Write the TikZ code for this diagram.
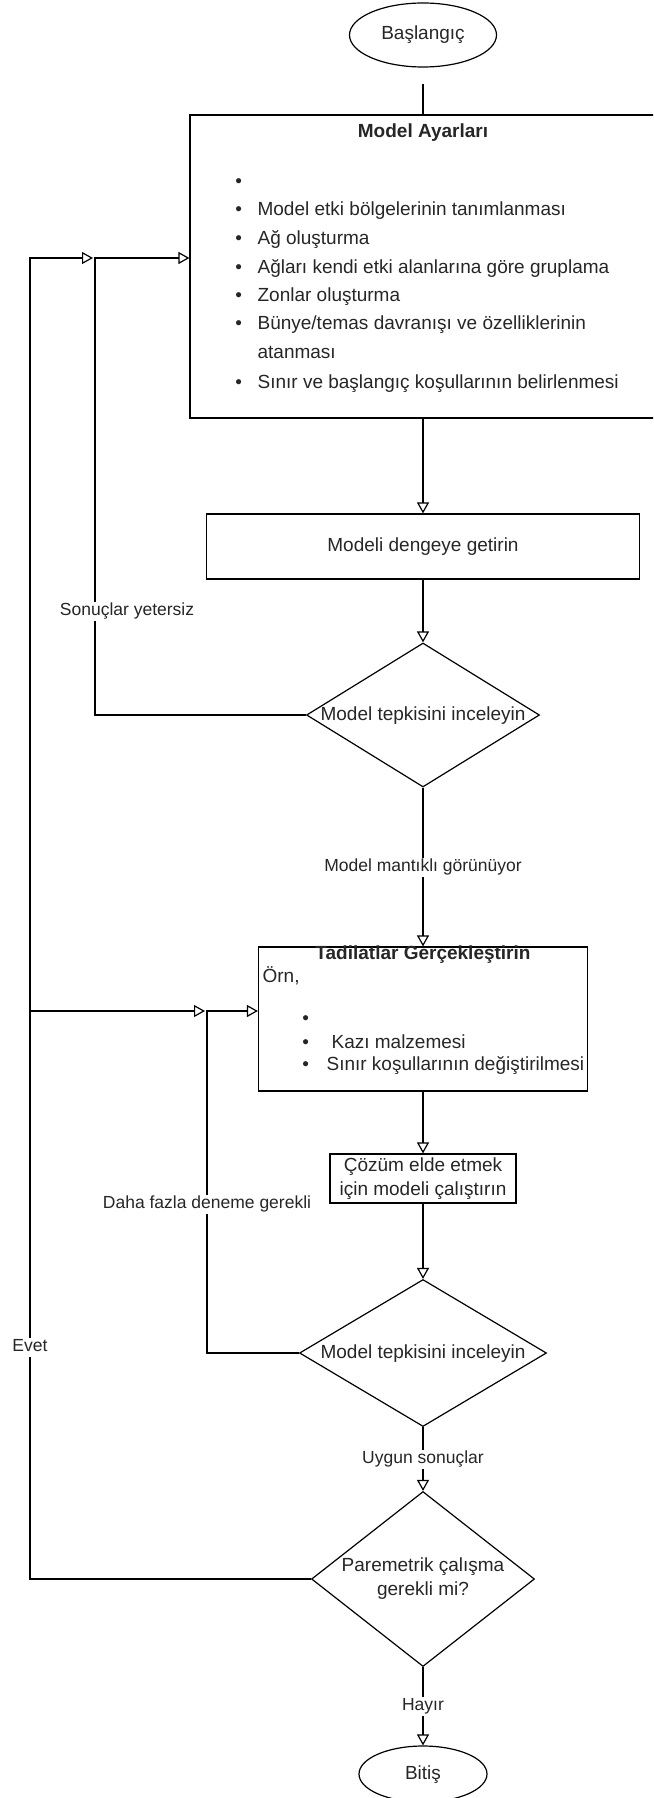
\documentclass[tikz,border=0pt]{standalone}
\usepackage{fontspec}
\setmainfont{Liberation Sans}
\usetikzlibrary{shapes.geometric,arrows.meta}

\newcommand{\pkt}[1][22.3pt]{\makebox[#1][l]{\textbullet}}

\tikzset{
    kasten/.style={draw, rectangle, inner sep=0pt},
    oval/.style={draw, ellipse, inner sep=0pt},
    raute/.style={draw, diamond, inner sep=0pt},
    txt/.style={inner sep=0pt, text height=14pt, text depth=4pt, font=\fontsize{19pt}{23pt}\selectfont},
    titel/.style={txt, font=\fontsize{19pt}{23pt}\selectfont\bfseries},
    zwei/.style={inner sep=0pt, align=center, font=\fontsize{19pt}{24pt}\selectfont},
    lbl/.style={fill=white, inner sep=1pt, text height=13pt, text depth=4pt, font=\fontsize{17.5pt}{21pt}\selectfont},
    pfeil/.style={-{Triangle[open,length=11pt,width=12pt]}}
}

\begin{document}
\begin{tikzpicture}[x=1pt, y=-1pt, line width=1.2pt, text=black!85]
        \useasboundingbox (0,0) rectangle (653,1798);
        \clip (0,0) rectangle (653,1798);

        %Knoten
        \node[oval, txt, minimum width=147pt, minimum height=64pt] (start) at (423,35) {Başlangıç};
        \node[kasten, minimum width=466pt, minimum height=303pt] (ayar) at (423,266.5) {};
        \node[kasten, txt, minimum width=433pt, minimum height=65pt] (denge) at (423,546.5) {Modeli dengeye getirin};
        \node[raute, minimum width=233pt, minimum height=144pt, label={[txt]center:Model tepkisini inceleyin}] (inc1) at (423,715) {};
        \node[kasten, minimum width=329pt, minimum height=144pt] (tadil) at (423,1019) {};
        \node[kasten, zwei, minimum width=186pt, minimum height=49pt] (cozum) at (423,1178.5) {Çözüm elde etmek\\için modeli çalıştırın};
        \node[raute, minimum width=247pt, minimum height=147pt, label={[txt]center:Model tepkisini inceleyin}] (inc2) at (423,1353) {};
        \node[raute, minimum width=223pt, minimum height=175pt, label={[zwei]center:{Paremetrik çalışma\\gerekli mi?}}] (param) at (423,1579) {};
        \node[oval, txt, minimum width=128pt, minimum height=56pt] (ende) at (423,1774) {Bitiş};

        %Text Model Ayarlari
        \node[titel] (t1) at (423,133) {Model Ayarları};
        \node[txt, anchor=west] (a0) at (234.7,183) {\pkt};
        \node[txt, anchor=west] (a1) at (234.7,210) {\pkt Model etki bölgelerinin tanımlanması};
        \node[txt, anchor=west] (a2) at (234.7,239) {\pkt Ağ oluşturma};
        \node[txt, anchor=west] (a3) at (234.7,268) {\pkt Ağları kendi etki alanlarına göre gruplama};
        \node[txt, anchor=west] (a4) at (234.7,296) {\pkt Zonlar oluşturma};
        \node[txt, anchor=west] (a5) at (234.7,324) {\pkt Bünye/temas davranışı ve özelliklerinin};
        \node[txt, anchor=west] (a6) at (257,353) {atanması};
        \node[txt, anchor=west] (a7) at (234.7,383) {\pkt Sınır ve başlangıç koşullarının belirlenmesi};

        %Text Tadilatlar
        \node[titel] (t2) at (423,954) {Tadilatlar Gerçekleştirin};
        \node[txt, anchor=west] (orn) at (262,977) {Örn,};
        \node[txt, anchor=west] (m0) at (301.7,1019) {\pkt};
        \node[txt, anchor=west] (m1) at (301.7,1043) {\pkt[29.3pt]Kazı malzemesi};
        \node[txt, anchor=west] (m2) at (301.7,1065) {\pkt[24.3pt]Sınır koşullarının değiştirilmesi};

        %Hilfspunkte
        \coordinate (k1) at (95,258);
        \coordinate (k2) at (207,1011);
        \coordinate (k3) at (30,258);
        \coordinate (k4) at (30,1011);

        %Pfeile
        \draw[shorten <=16pt] (start) -- (ayar);
        \draw[pfeil] (ayar) -- (denge);
        \draw[pfeil] (denge) -- (inc1);
        \draw[pfeil] (inc1) -- (tadil) node[lbl, midway]{Model mantıklı görünüyor};
        \draw[pfeil] (tadil) -- (cozum);
        \draw[pfeil] (cozum) -- (inc2);
        \draw[pfeil] (inc2) -- (param) node[lbl, midway]{Uygun sonuçlar};
        \draw[pfeil] (param) -- (ende) node[lbl, midway]{Hayır};

        %Rueckfuehrungen
        \draw[pfeil] (inc1.west) -| (k1) -- (k1 -| ayar.west) node at (127,611) [lbl]{Sonuçlar yetersiz};
        \draw[pfeil] (inc2.west) -| (k2) -- (k2 -| tadil.west) node at (207,1204) [lbl]{Daha fazla deneme gerekli};
        \draw[pfeil, shorten >=2pt] (param.west) -| (k3) -- (k1) node at (30,1347) [lbl]{Evet};
        \draw[pfeil, shorten >=2pt] (k4) -- (k2);
    \end{tikzpicture}
\end{document}
